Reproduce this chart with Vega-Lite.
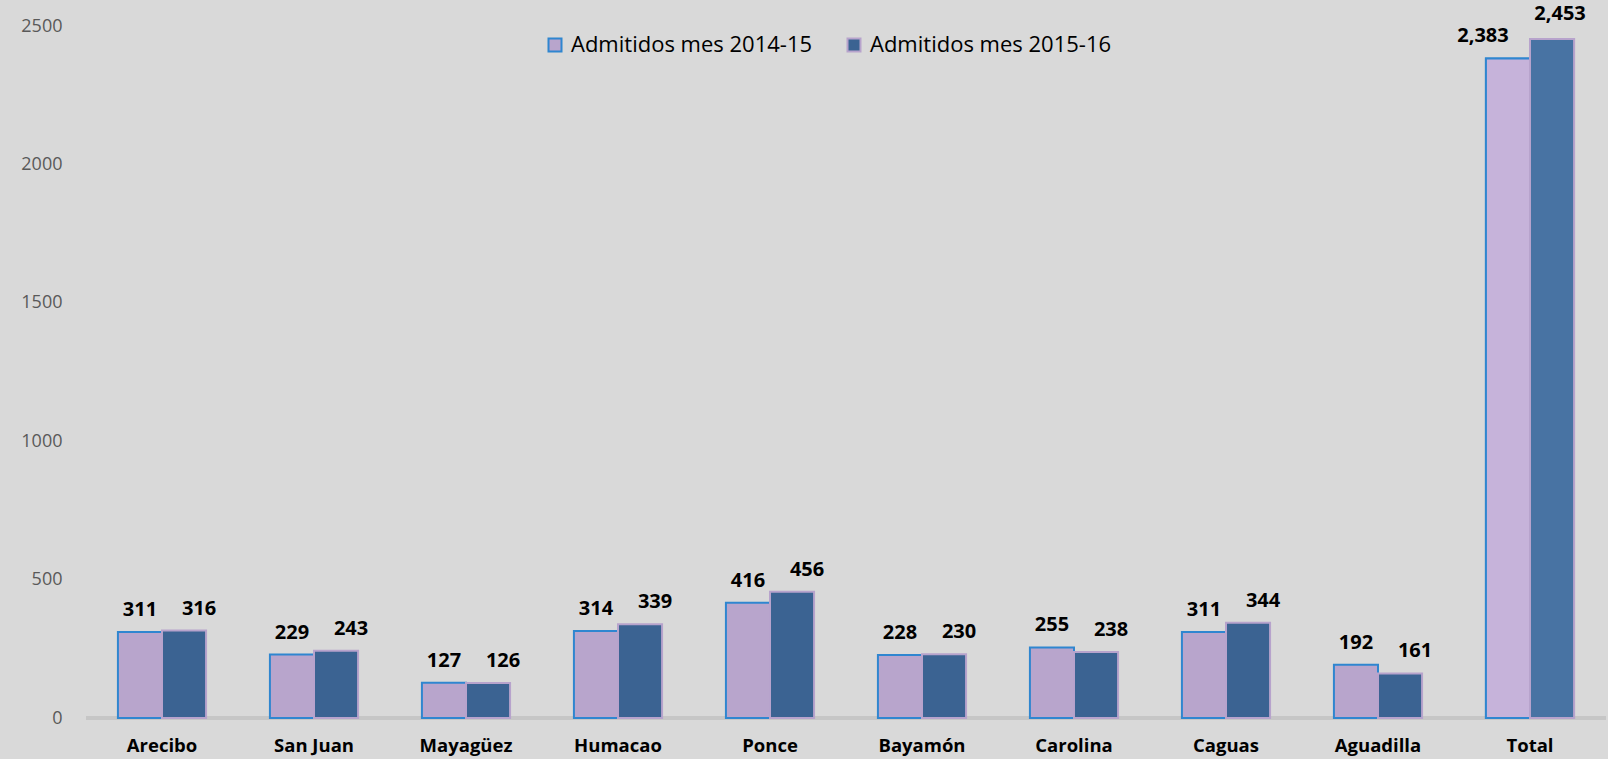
{
  "$schema": "https://vega.github.io/schema/vega-lite/v6.json",
  "autosize": {"type": "none"},
  "width": 1520,
  "height": 692,
  "padding": {"left": 86, "top": 26, "right": 2, "bottom": 41},
  "background": "#d9d9d9",
  "config": {
    "view": {"stroke": null},
    "font": "Open Sans",
    "axis": {"grid": false, "domain": false, "ticks": false}
  },
  "data": {
    "values": [
      {"region": "Arecibo", "serie": "Admitidos mes 2014-15", "value": 311},
      {"region": "Arecibo", "serie": "Admitidos mes 2015-16", "value": 316},
      {"region": "San Juan", "serie": "Admitidos mes 2014-15", "value": 229},
      {"region": "San Juan", "serie": "Admitidos mes 2015-16", "value": 243},
      {"region": "Mayagüez", "serie": "Admitidos mes 2014-15", "value": 127},
      {"region": "Mayagüez", "serie": "Admitidos mes 2015-16", "value": 126},
      {"region": "Humacao", "serie": "Admitidos mes 2014-15", "value": 314},
      {"region": "Humacao", "serie": "Admitidos mes 2015-16", "value": 339},
      {"region": "Ponce", "serie": "Admitidos mes 2014-15", "value": 416},
      {"region": "Ponce", "serie": "Admitidos mes 2015-16", "value": 456},
      {"region": "Bayamón", "serie": "Admitidos mes 2014-15", "value": 228},
      {"region": "Bayamón", "serie": "Admitidos mes 2015-16", "value": 230},
      {"region": "Carolina", "serie": "Admitidos mes 2014-15", "value": 255},
      {"region": "Carolina", "serie": "Admitidos mes 2015-16", "value": 238},
      {"region": "Caguas", "serie": "Admitidos mes 2014-15", "value": 311},
      {"region": "Caguas", "serie": "Admitidos mes 2015-16", "value": 344},
      {"region": "Aguadilla", "serie": "Admitidos mes 2014-15", "value": 192},
      {"region": "Aguadilla", "serie": "Admitidos mes 2015-16", "value": 161},
      {"region": "Total", "serie": "Admitidos mes 2014-15", "value": 2383},
      {"region": "Total", "serie": "Admitidos mes 2015-16", "value": 2453}
    ]
  },
  "encoding": {
    "x": {
      "field": "region", "type": "nominal", "sort": null,
      "scale": {"paddingInner": 0.42, "paddingOuter": 0.21},
      "axis": {"title": null, "labelAngle": 0, "labelFontSize": 18.5, "labelFontWeight": "bold", "labelColor": "#000000", "labelPadding": 18}
    },
    "xOffset": {"field": "serie", "type": "nominal"},
    "y": {
      "field": "value", "type": "quantitative",
      "scale": {"domain": [0, 2500], "nice": false},
      "axis": {"title": null, "values": [0, 500, 1000, 1500, 2000, 2500], "format": "d", "labelFontSize": 18, "labelColor": "#595959", "labelPadding": 24}
    }
  },
  "layer": [
    {
      "mark": {"type": "rule", "strokeWidth": 4, "color": "#c6c6c6"},
      "encoding": {"x": null, "xOffset": null, "y": {"datum": 0}}
    },
    {
      "mark": {"type": "bar", "strokeWidth": 2},
      "encoding": {
        "color": {
          "field": "serie", "type": "nominal",
          "scale": {"range": ["#b8a5cc", "#3b6392"]},
          "legend": {
            "title": null, "orient": "none", "direction": "horizontal",
            "legendX": 458, "legendY": 8, "symbolType": "square", "symbolSize": 169,
            "symbolStrokeWidth": 2, "labelFontSize": 22, "labelColor": "#000000",
            "columnPadding": 30, "labelOffset": 5, "labelLimit": 0
          }
        },
        "stroke": {
          "field": "serie", "type": "nominal",
          "scale": {"range": ["#2f86d0", "#b7a3cc"]}
        }
      }
    },
    {
      "transform": [{"filter": "datum.region == 'Total'"}],
      "mark": {"type": "bar", "strokeWidth": 2},
      "encoding": {
        "fill": {"condition": {"test": "datum.serie == 'Admitidos mes 2014-15'", "value": "#c6b3da"}, "value": "#4873a3"},
        "stroke": {"condition": {"test": "datum.serie == 'Admitidos mes 2014-15'", "value": "#2f86d0"}, "value": "#b7a3cc"}
      }
    },
    {
      "transform": [{"filter": "datum.region != 'Total' && datum.serie == 'Admitidos mes 2014-15'"}],
      "mark": {"type": "text", "baseline": "bottom", "dy": -12, "fontSize": 20, "fontWeight": "bold", "color": "#000000"},
      "encoding": {"text": {"field": "value", "type": "quantitative", "format": ","}}
    },
    {
      "transform": [{"filter": "datum.region != 'Total' && datum.serie == 'Admitidos mes 2015-16'"}],
      "mark": {"type": "text", "baseline": "bottom", "dy": -12, "dx": 15, "fontSize": 20, "fontWeight": "bold", "color": "#000000"},
      "encoding": {"text": {"field": "value", "type": "quantitative", "format": ","}}
    },
    {
      "transform": [{"filter": "datum.region == 'Total' && datum.serie == 'Admitidos mes 2014-15'"}],
      "mark": {"type": "text", "baseline": "bottom", "dy": -12, "dx": -25, "fontSize": 20, "fontWeight": "bold", "color": "#000000"},
      "encoding": {"text": {"field": "value", "type": "quantitative", "format": ","}}
    },
    {
      "transform": [{"filter": "datum.region == 'Total' && datum.serie == 'Admitidos mes 2015-16'"}],
      "mark": {"type": "text", "baseline": "bottom", "dy": -15, "dx": 8, "fontSize": 20, "fontWeight": "bold", "color": "#000000"},
      "encoding": {"text": {"field": "value", "type": "quantitative", "format": ","}}
    }
  ]
}
